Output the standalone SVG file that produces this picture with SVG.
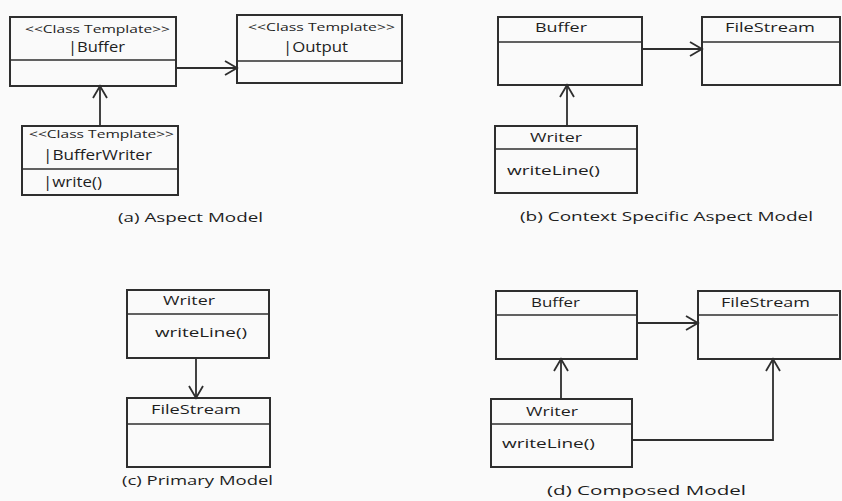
<svg xmlns="http://www.w3.org/2000/svg" width="842" height="501" viewBox="0 0 842 501">
<style>
.box{fill:none;stroke:#2e2e2e;stroke-width:2}
.div{stroke:#2e2e2e;stroke-width:1.6}
.t{font-family:"Open Sans","Noto Sans",sans-serif;fill:#1e1e1e}
.st{font-size:11px}
.nm{font-size:14px}
.n2{font-size:13px}
.cap{font-size:12.5px}
.con{fill:none;stroke:#2e2e2e;stroke-width:1.8}
</style>
<defs>
<marker id="arr" viewBox="-14 -9 16 18" markerWidth="16" markerHeight="18" refX="0" refY="0" orient="auto" markerUnits="userSpaceOnUse">
<path d="M-12,-7 L0,0 L-12,7" fill="none" stroke="#2e2e2e" stroke-width="1.8"/>
</marker>
</defs>
<rect width="842" height="501" fill="#fafafa"/>

<!-- (a) Aspect Model -->
<g id="a-buffer">
<rect class="box" x="10" y="17" width="166" height="69"/>
<line class="div" x1="10" y1="60" x2="176" y2="60"/>
<text class="t st" x="25" y="33" textLength="145" lengthAdjust="spacingAndGlyphs">&lt;&lt;Class Template&gt;&gt;</text>
<text class="t nm" x="68" y="52" textLength="57" lengthAdjust="spacingAndGlyphs">|Buffer</text>
</g>
<g id="a-output">
<rect class="box" x="237" y="15" width="165" height="68"/>
<line class="div" x1="237" y1="61" x2="402" y2="61"/>
<text class="t st" x="248" y="31" textLength="147" lengthAdjust="spacingAndGlyphs">&lt;&lt;Class Template&gt;&gt;</text>
<text class="t nm" x="283" y="52" textLength="65" lengthAdjust="spacingAndGlyphs">|Output</text>
</g>
<g id="a-bufferwriter">
<rect class="box" x="22" y="126" width="156" height="69"/>
<line class="div" x1="22" y1="169" x2="178" y2="169"/>
<text class="t st" x="29" y="138" textLength="145" lengthAdjust="spacingAndGlyphs">&lt;&lt;Class Template&gt;&gt;</text>
<text class="t nm" x="43" y="160" textLength="109" lengthAdjust="spacingAndGlyphs">|BufferWriter</text>
<text class="t nm" x="43" y="187" textLength="59" lengthAdjust="spacingAndGlyphs">|write()</text>
</g>
<text class="t cap" x="118" y="222" textLength="145" lengthAdjust="spacingAndGlyphs">(a) Aspect Model</text>

<!-- (b) Context Specific Aspect Model -->
<g id="b-buffer">
<rect class="box" x="498" y="17" width="144" height="68"/>
<line class="div" x1="498" y1="42" x2="642" y2="42"/>
<text class="t n2" x="535" y="32" textLength="52" lengthAdjust="spacingAndGlyphs">Buffer</text>
</g>
<g id="b-filestream">
<rect class="box" x="702" y="17" width="138" height="68"/>
<line class="div" x1="702" y1="42" x2="840" y2="42"/>
<text class="t n2" x="725" y="32" textLength="90" lengthAdjust="spacingAndGlyphs">FileStream</text>
</g>
<g id="b-writer">
<rect class="box" x="495" y="126" width="142" height="67"/>
<line class="div" x1="495" y1="149" x2="637" y2="149"/>
<text class="t n2" x="530" y="142" textLength="52" lengthAdjust="spacingAndGlyphs">Writer</text>
<text class="t n2" x="507" y="175" textLength="93" lengthAdjust="spacingAndGlyphs">writeLine()</text>
</g>
<text class="t cap" x="520" y="221" textLength="293" lengthAdjust="spacingAndGlyphs">(b) Context Specific Aspect Model</text>

<!-- (c) Primary Model -->
<g id="c-writer">
<rect class="box" x="127" y="290" width="142" height="68"/>
<line class="div" x1="127" y1="314" x2="269" y2="314"/>
<text class="t n2" x="163" y="305" textLength="52" lengthAdjust="spacingAndGlyphs">Writer</text>
<text class="t n2" x="155" y="337" textLength="92" lengthAdjust="spacingAndGlyphs">writeLine()</text>
</g>
<g id="c-filestream">
<rect class="box" x="127" y="398" width="143" height="69"/>
<line class="div" x1="127" y1="424" x2="270" y2="424"/>
<text class="t n2" x="151" y="414" textLength="90" lengthAdjust="spacingAndGlyphs">FileStream</text>
</g>
<text class="t cap" x="122" y="485" textLength="151" lengthAdjust="spacingAndGlyphs">(c) Primary Model</text>

<!-- (d) Composed Model -->
<g id="d-buffer">
<rect class="box" x="496" y="291" width="141" height="68"/>
<line class="div" x1="496" y1="315" x2="637" y2="315"/>
<text class="t n2" x="531" y="307" textLength="49" lengthAdjust="spacingAndGlyphs">Buffer</text>
</g>
<g id="d-filestream">
<rect class="box" x="698" y="291" width="142" height="68"/>
<line class="div" x1="698" y1="315" x2="838" y2="315"/>
<text class="t n2" x="721" y="307" textLength="89" lengthAdjust="spacingAndGlyphs">FileStream</text>
</g>
<g id="d-writer">
<rect class="box" x="491" y="399" width="141" height="68"/>
<line class="div" x1="491" y1="424" x2="632" y2="424"/>
<text class="t n2" x="526" y="416" textLength="52" lengthAdjust="spacingAndGlyphs">Writer</text>
<text class="t n2" x="502" y="448" textLength="93" lengthAdjust="spacingAndGlyphs">writeLine()</text>
</g>
<text class="t cap" x="547" y="495" textLength="199" lengthAdjust="spacingAndGlyphs">(d) Composed Model</text>

<g id="connectors">
<path class="con" d="M176,68 L237,68" marker-end="url(#arr)"/>
<path class="con" d="M100,126 L100,86" marker-end="url(#arr)"/>
<path class="con" d="M642,49 L702,49" marker-end="url(#arr)"/>
<path class="con" d="M567,126 L567,85" marker-end="url(#arr)"/>
<path class="con" d="M196,358 L196,398" marker-end="url(#arr)"/>
<path class="con" d="M637,323 L698,323" marker-end="url(#arr)"/>
<path class="con" d="M561,399 L561,359" marker-end="url(#arr)"/>
<path class="con" d="M632,440 L773,440 L773,359" marker-end="url(#arr)"/>
</g>
</svg>
